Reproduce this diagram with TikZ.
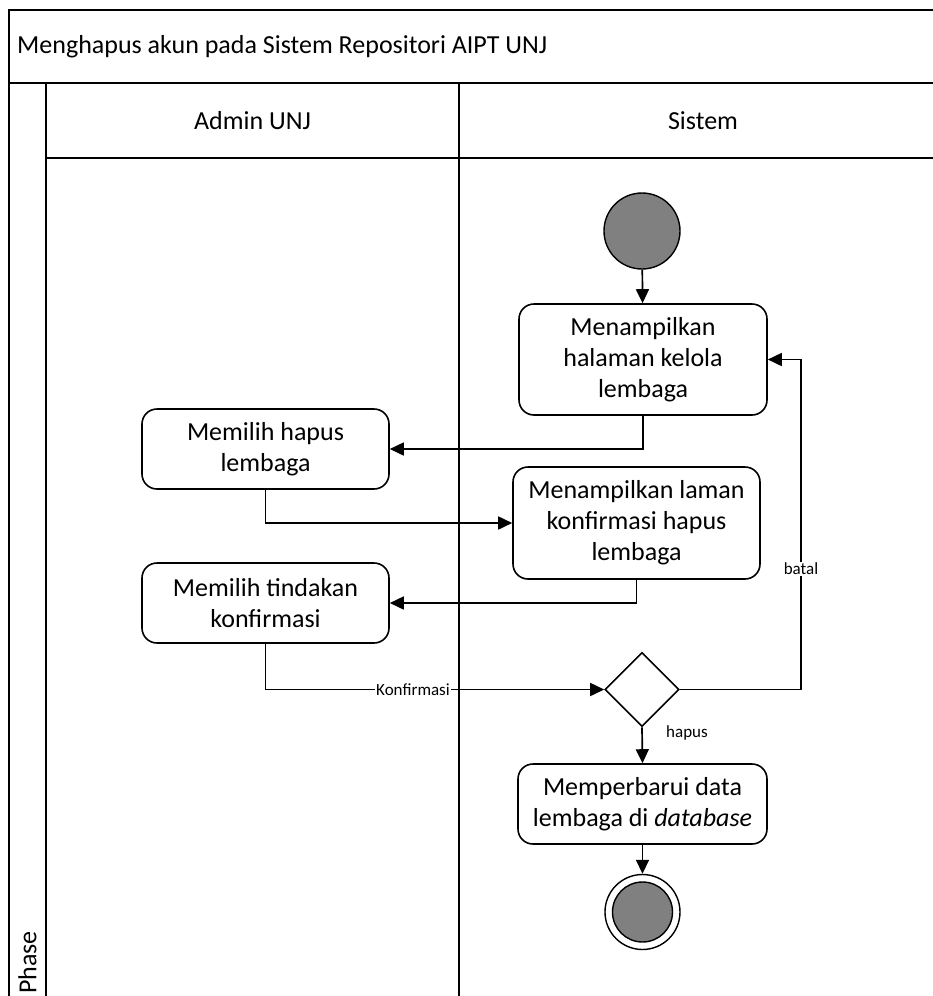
\documentclass[tikz,border=0pt]{standalone}
\usepackage{fontspec}
\setmainfont{Carlito}
\usetikzlibrary{arrows.meta,shapes.geometric}
\definecolor{nodegray}{RGB}{128,128,128}
\begin{document}
\begin{tikzpicture}[x=1pt,y=-1pt,
  frame/.style={line width=1.7pt},
  action/.style={draw, line width=1.6pt, rounded corners=15pt, align=center,
    font=\fontsize{26}{31}\selectfont, inner sep=0pt},
  initial/.style={circle, draw, line width=1.4pt, fill=nodegray, inner sep=0pt},
  decision/.style={diamond, draw, line width=1.6pt, fill=white, inner sep=0pt,
    minimum width=74pt, minimum height=74pt},
  flow/.style={line width=1.7pt, -{Triangle[length=14pt,width=13pt]}},
  heading/.style={font=\fontsize{26}{31}\selectfont, inner sep=0pt},
  guard/.style={font=\fontsize{17}{20}\selectfont, inner sep=1pt}
]
\useasboundingbox (0,0) rectangle (933,996);
\clip (0,0) rectangle (933,996);

% swimlane frame
\draw[frame] (9,1010) -- (9,10) -- (960,10);
\draw[frame] (9,83) -- (960,83);
\draw[frame] (46,83) -- (46,1010);
\draw[frame] (46,158) -- (960,158);
\draw[frame] (459,83) -- (459,1010);

% headings
\node[heading, anchor=west] (title) at (17,46.5) {Menghapus akun pada Sistem Repositori AIPT UNJ};
\node[heading] (laneadmin) at (252.5,120.5) {Admin UNJ};
\node[heading] (lanesys) at (703,120.5) {Sistem};
\node[heading, rotate=90, anchor=west] (phase) at (27.5,994) {Phase};

% activity nodes
\node[initial, minimum size=76pt] (start) at (642,231) {};
\node[action, minimum width=248pt, minimum height=111pt] (halaman) at (643,359.5)
  {Menampilkan\\halaman kelola\\lembaga};
\node[action, minimum width=247pt, minimum height=80pt] (hapus) at (265.5,449)
  {Memilih hapus\\lembaga};
\node[action, minimum width=247pt, minimum height=112pt] (laman) at (636.5,523)
  {Menampilkan laman\\konfirmasi hapus\\lembaga};
\node[action, minimum width=247pt, minimum height=80pt] (tindakan) at (265.5,603)
  {Memilih tindakan\\konfirmasi};
\node[decision] (dec) at (642,689.5) {};
\node[action, minimum width=249pt, minimum height=80pt] (upd) at (642.5,804)
  {Memperbarui data\\lembaga di \textit{database}};
\node[circle, draw, line width=1.4pt, fill=white, inner sep=0pt, minimum size=75pt] (final) at (642.5,912) {};
\node[initial, minimum size=60pt] (finalcore) at (final.center) {};

% flows
\coordinate (backturn) at (801,689.5);
\draw[flow] (start) -- (halaman);
\draw[flow] (halaman.south) |- (hapus.east);
\draw[flow] (hapus.south) |- (laman.west);
\draw[flow] (laman.south) |- (tindakan.east);
\draw[flow] (tindakan.south) |- (dec.west);
\draw[flow] (dec.east) -- (backturn) |- (halaman.east);
\draw[flow] (dec.south) -- (upd.north);
\draw[flow] (upd.south) -- (final.north);

% guard labels
\node[guard, fill=white] (lblkonf) at (413,689.5) {Konfirmasi};
\node[guard, fill=white] (lblbatal) at (801,569) {batal};
\node[guard, anchor=west] (lblhapus) at (665,733) {hapus};
\end{tikzpicture}
\end{document}
